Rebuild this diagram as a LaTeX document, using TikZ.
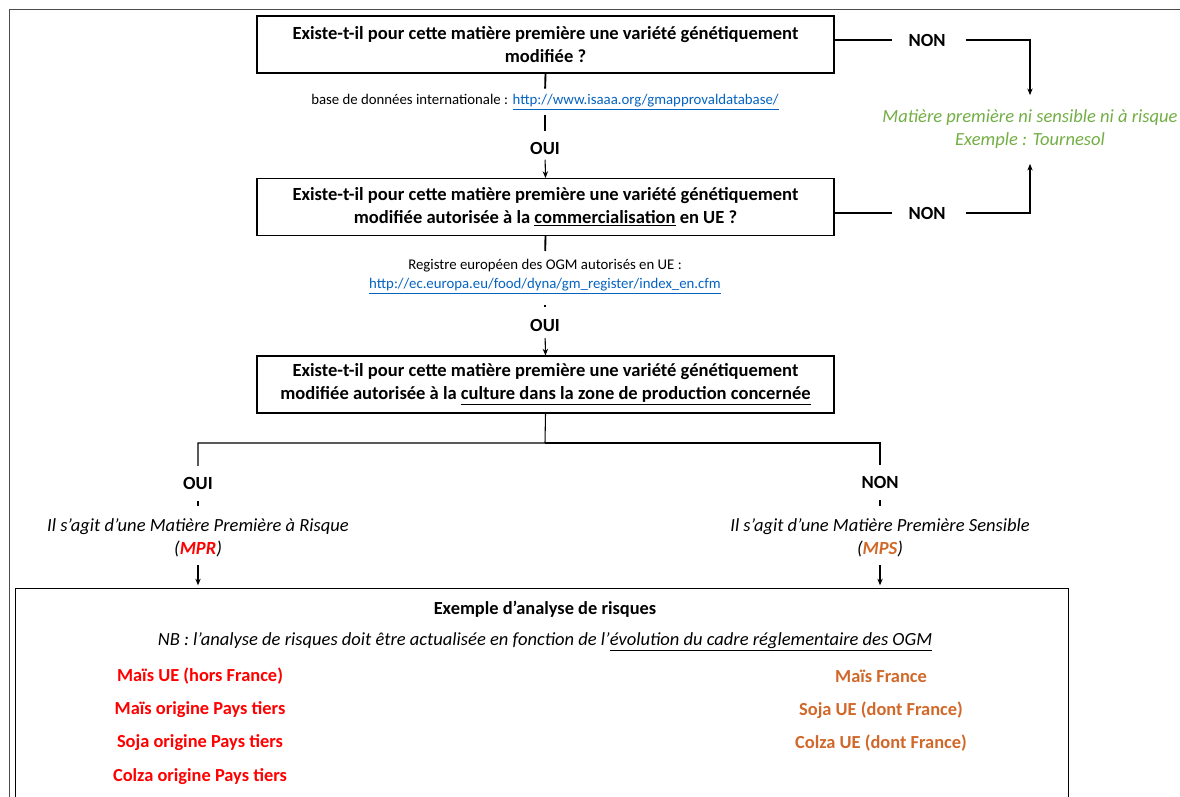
\documentclass[tikz,border=0pt]{standalone}
\usepackage{fontspec}
\setmainfont{Carlito}
\usetikzlibrary{arrows.meta}
\definecolor{linkblue}{HTML}{0563C1}
\definecolor{mprred}{HTML}{FF0000}
\definecolor{mpsorange}{HTML}{D0682A}
\definecolor{okgreen}{HTML}{72AE45}
\tikzset{
  qbox/.style={draw, line width=0.8pt, minimum width=432.75pt, minimum height=42.75pt, align=center, inner sep=0pt,
    font=\fontsize{13.9}{17.25}\selectfont\bfseries},
  lbl/.style={inner sep=0pt, align=center},
  yesno/.style={lbl, font=\fontsize{13.9}{17}\selectfont\bfseries},
  small/.style={lbl, font=\fontsize{11.1}{14.25}\selectfont},
  itl/.style={lbl, font=\fontsize{13.9}{17.25}\selectfont\itshape},
  item/.style={lbl, font=\fontsize{13.8}{17}\selectfont\bfseries},
  conn/.style={line width=0.8pt},
  arr/.style={conn, -{Stealth[length=5pt,width=4pt]}},
}
\newcommand{\lnk}[1]{\textcolor{linkblue}{\underline{#1}}}
\begin{document}
\begin{tikzpicture}[x=0.75pt,y=-0.75pt]
\useasboundingbox (0,0) rectangle (1180,796);
% page frame
\draw[line width=0.6pt, black!70] (9,800) -- (9,9) -- (1180,9);

% question boxes
\node[qbox] (b1) at (545.5,44.5) {Existe-t-il pour cette matière première une variété génétiquement\\modifiée ?};
\node[small] (url1) at (545,102) {base de données internationale : \lnk{http://www.isaaa.org/gmapprovaldatabase/}};
\node[yesno] (oui1) at (545,148) {OUI};
\node[qbox] (b2) at (545.5,207) {Existe-t-il pour cette matière première une variété génétiquement\\modifiée autorisée à la \underline{commercialisation} en UE ?};
\node[small] (reg) at (545,276.5) {Registre européen des OGM autorisés en UE :\\\lnk{http://ec.europa.eu/food/dyna/gm\_register/index\_en.cfm}};
\node[yesno] (oui2) at (545,325) {OUI};
\node[qbox] (b3) at (545.5,384.5) {Existe-t-il pour cette matière première une variété génétiquement\\modifiée autorisée à la \underline{culture dans la zone de production concernée}};

% NON branches to the right
\node[yesno] (non1) at (927,40) {NON};
\node[yesno] (non2) at (927,213) {NON};
\node[itl, text=okgreen] (green) at (1030,129.5) {Matière première ni sensible ni à risque\\Exemple : Tournesol};

% split
\coordinate (sp) at (545,443);
\node[yesno] (oui3) at (198,483) {OUI};
\node[yesno] (non3) at (880,482) {NON};
\node[itl] (mpr) at (198,537.5) {Il s’agit d’une Matière Première à Risque\\(\textcolor{mprred}{\bfseries MPR})};
\node[itl] (mps) at (880,537.5) {Il s’agit d’une Matière Première Sensible\\(\textcolor{mpsorange}{\bfseries MPS})};

% example box
\node[draw, line width=0.8pt, minimum width=789.75pt, minimum height=180pt, inner sep=0pt, anchor=north west] (ex) at (15,588) {};
\node[item] (title) at (545,609) {Exemple d’analyse de risques};
\node[itl] (nb) at (545,642) {NB : l’analyse de risques doit être actualisée en fonction de l’\underline{évolution du cadre réglementaire des OGM}};
\node[item, text=mprred] (r1) at (200,676) {Maïs UE (hors France)};
\node[item, text=mprred] (r2) at (200,710) {Maïs origine Pays tiers};
\node[item, text=mprred] (r3) at (200,743) {Soja origine Pays tiers};
\node[item, text=mprred] (r4) at (200,777) {Colza origine Pays tiers};
\node[item, text=mpsorange] (o1) at (881,676) {Maïs France};
\node[item, text=mpsorange] (o2) at (881,710) {Soja UE (dont France)};
\node[item, text=mpsorange] (o3) at (881,743) {Colza UE (dont France)};

% vertical connectors
\draw[conn, line width=1.4pt, shorten >=4pt] (b1.south) -- (url1.north);
\draw[conn, line width=1.4pt, shorten <=4pt, shorten >=8pt] (url1.south) -- (oui1.north);
\draw[arr, shorten <=4pt] (oui1.south) -- (b2.north);
\draw[conn, line width=1.4pt, shorten >=6pt] (b2.south) -- (reg.north);
\draw[conn, line width=1.4pt, shorten <=8pt, shorten >=8.5pt] (reg.south) -- (oui2.north);
\draw[arr, shorten <=5pt] (oui2.south) -- (b3.north);

\draw[conn, shorten >=8pt] (b3.south) -- (sp) -| (oui3.north);
\draw[conn, shorten >=8pt] (sp) -| (non3.north);
\draw[conn, shorten <=9pt, shorten >=9pt] (oui3.south) -- (mpr.north);
\draw[conn, shorten <=9pt, shorten >=9pt] (non3.south) -- (mps.north);
\draw[arr, shorten <=6pt, shorten >=2pt] (mpr.south) -- (mpr.south |- ex.north);
\draw[arr, shorten <=6pt, shorten >=2pt] (mps.south) -- (mps.south |- ex.north);

% NON connectors
\draw[conn, shorten >=12pt] (b1.east |- non1) -- (non1.west);
\draw[arr, shorten <=15pt, shorten >=11pt] (non1.east) -| (green.north);
\draw[conn, shorten >=12pt] (b2.east |- non2) -- (non2.west);
\draw[arr, shorten <=15pt, shorten >=11pt] (non2.east) -| (green.south);
\end{tikzpicture}
\end{document}
